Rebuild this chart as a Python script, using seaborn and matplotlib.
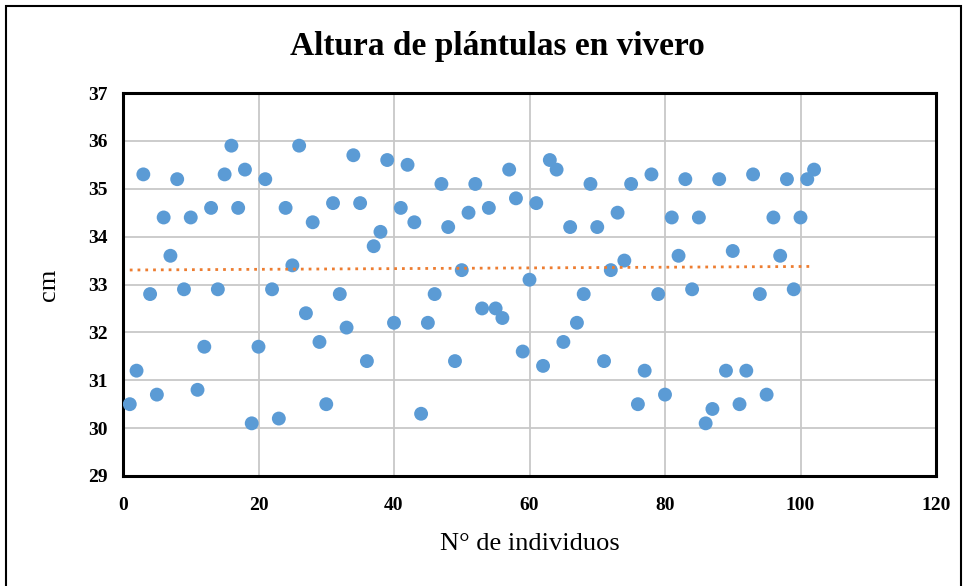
import numpy as np
import pandas as pd
import seaborn as sns
import matplotlib
matplotlib.use("Agg")
import matplotlib.pyplot as plt
from matplotlib.patches import Rectangle

individuos = list(range(1, 103))
altura_cm = [
    30.5, 31.2, 35.3, 32.8, 30.7, 34.4, 33.6, 35.2, 32.9, 34.4,
    30.8, 31.7, 34.6, 32.9, 35.3, 35.9, 34.6, 35.4, 30.1, 31.7,
    35.2, 32.9, 30.2, 34.6, 33.4, 35.9, 32.4, 34.3, 31.8, 30.5,
    34.7, 32.8, 32.1, 35.7, 34.7, 31.4, 33.8, 34.1, 35.6, 32.2,
    34.6, 35.5, 34.3, 30.3, 32.2, 32.8, 35.1, 34.2, 31.4, 33.3,
    34.5, 35.1, 32.5, 34.6, 32.5, 32.3, 35.4, 34.8, 31.6, 33.1,
    34.7, 31.3, 35.6, 35.4, 31.8, 34.2, 32.2, 32.8, 35.1, 34.2,
    31.4, 33.3, 34.5, 33.5, 35.1, 30.5, 31.2, 35.3, 32.8, 30.7,
    34.4, 33.6, 35.2, 32.9, 34.4, 30.1, 30.4, 35.2, 31.2, 33.7,
    30.5, 31.2, 35.3, 32.8, 30.7, 34.4, 33.6, 35.2, 32.9, 34.4,
    35.2, 35.4,
]
x_ticks = [0, 20, 40, 60, 80, 100, 120]
y_ticks = [29, 30, 31, 32, 33, 34, 35, 36, 37]
titulo = "Altura de plántulas en vivero"
x_label = "N° de individuos"
y_label = "cm"

df = pd.DataFrame({"ind": individuos, "alt": altura_cm})

sns.set_theme(style="white")
plt.rcParams["font.family"] = ["Liberation Serif", "DejaVu Serif"]
plt.rcParams["text.color"] = "black"
plt.rcParams["axes.labelcolor"] = "black"
plt.rcParams["xtick.color"] = "black"
plt.rcParams["ytick.color"] = "black"

fig = plt.figure(figsize=(9.67, 5.86), dpi=100)
ax = fig.add_axes([123 / 967, 1 - 476 / 586, (936 - 123) / 967, (476 - 93) / 586])

# outer chart border
fig.patches.append(Rectangle((6 / 967, -0.02), (961 - 6) / 967, 1 - 6 / 586 + 0.02,
                             transform=fig.transFigure, fill=False,
                             edgecolor="black", linewidth=1.5))

sns.scatterplot(data=df, x="ind", y="alt", ax=ax, color="#5B9BD5", s=100,
                edgecolor="none", zorder=3, legend=False)
sns.regplot(data=df, x="ind", y="alt", ax=ax, scatter=False, ci=None,
            truncate=True, line_kws=dict(color="#ED7D31", linestyle=(0, (1, 1.8)),
                                         linewidth=2.0, zorder=4))

ax.set_xlim(0, 120)
ax.set_ylim(29, 37)
ax.set_xticks(x_ticks)
ax.set_yticks(y_ticks)
ax.grid(True, color="#C8C8C8", linewidth=1.3, zorder=0)
ax.set_axisbelow(True)
for sp in ax.spines.values():
    sp.set_color("black")
    sp.set_linewidth(2.2)
ax.tick_params(axis="x", length=0, labelsize=14, pad=15)
ax.tick_params(axis="y", length=0, labelsize=14, pad=11)
for lab in ax.get_xticklabels() + ax.get_yticklabels():
    lab.set_fontweight("bold")

ax.set_xlabel(x_label, fontsize=19, labelpad=14)
ax.set_ylabel(y_label, fontsize=19, labelpad=20)
fig.text(497 / 967, 1 - 47 / 586, titulo, ha="center", va="center",
         fontsize=24, fontweight="bold")

fig.savefig("out.png", dpi=100)
